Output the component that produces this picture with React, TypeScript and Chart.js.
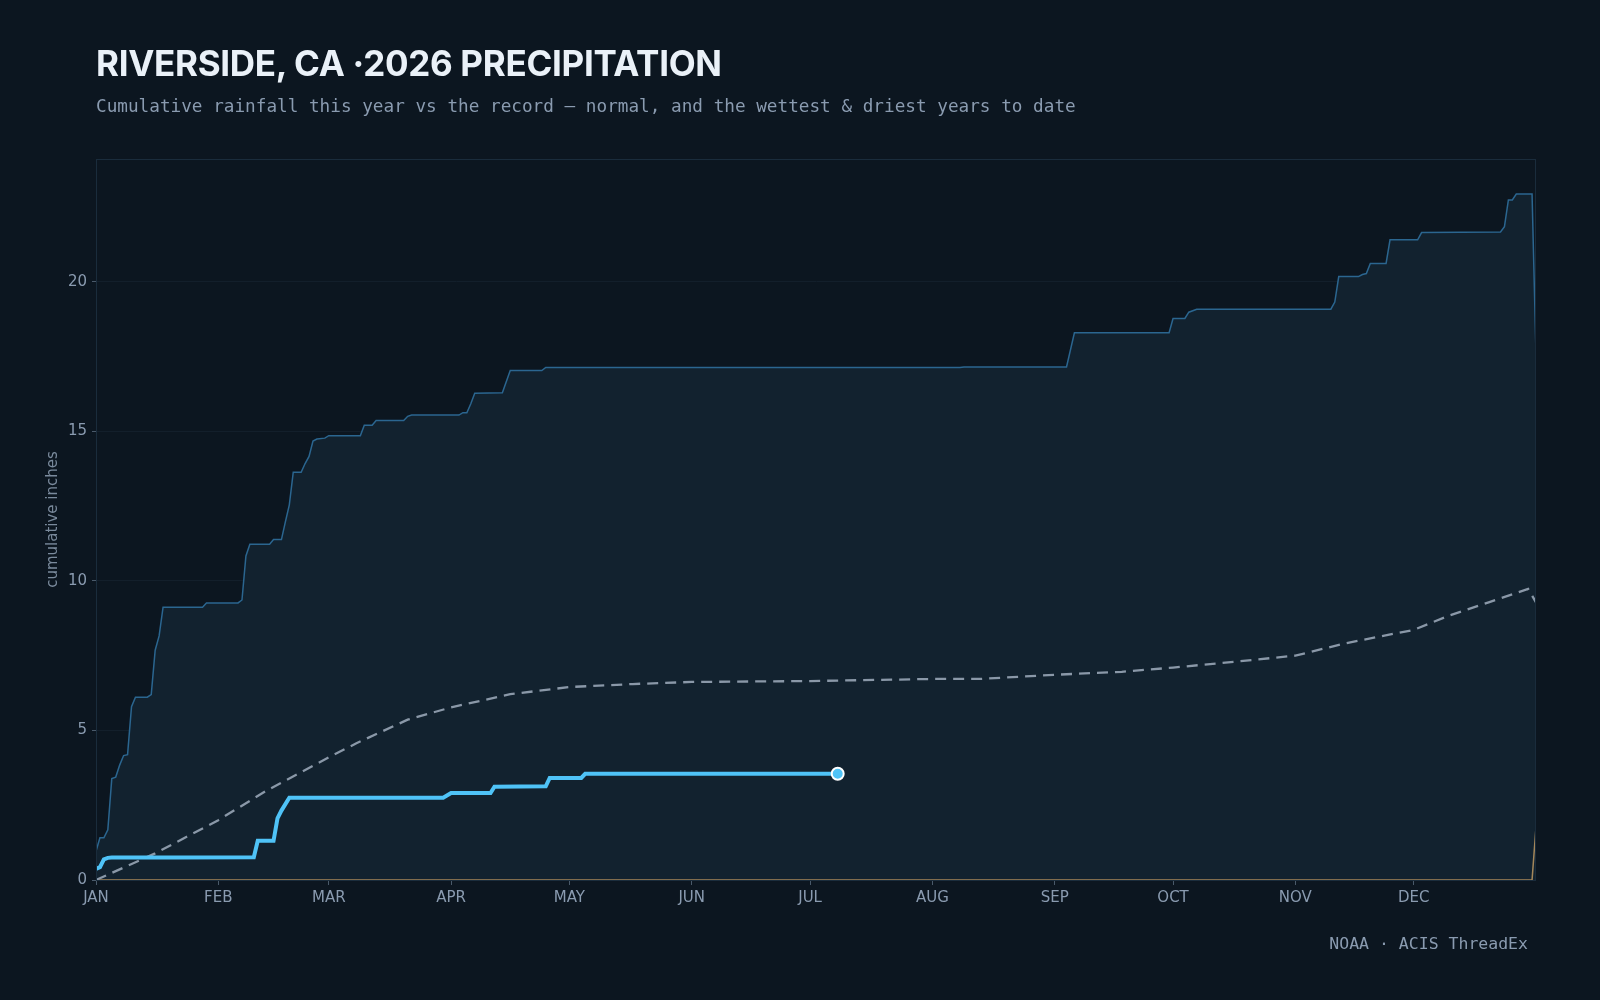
import React, { useEffect, useRef } from "react";
import { Chart, registerables } from "chart.js";

Chart.register(...registerables);

// Day-of-year (0 = Jan 1) positions of the month ticks and their labels
const monthDays = [0, 31, 59, 90, 120, 151, 181, 212, 243, 273, 304, 334];
const monthLabels = ["JAN", "FEB", "MAR", "APR", "MAY", "JUN", "JUL", "AUG", "SEP", "OCT", "NOV", "DEC"];

// Wettest year on record, cumulative inches by day of year
const wettestDays = [
  0, 1, 2, 3, 4, 5, 6, 7, 8, 9, 10, 13, 14, 15, 16, 17, 27, 28, 36, 37, 38, 39, 44, 45, 47, 48, 49, 50, 52, 53,
  54, 55, 56, 58, 59, 67, 68, 70, 71, 78, 79, 80, 92, 93, 94, 95, 96, 103, 105, 113, 114, 219, 220, 246, 248,
  272, 273, 276, 277, 279, 313, 314, 315, 320, 321, 322, 323, 327, 328, 335, 336, 356, 357, 358, 359, 360, 364, 365,
];
const wettestValues = [
  0.96, 1.41, 1.41, 1.68, 3.39, 3.44, 3.84, 4.16, 4.19, 5.79, 6.11, 6.11, 6.2, 7.68, 8.16, 9.12, 9.12, 9.26, 9.26, 9.36,
  10.83, 11.22, 11.22, 11.38, 11.38, 11.97, 12.54, 13.63, 13.63, 13.92, 14.16, 14.67, 14.74, 14.77, 14.85, 14.85, 15.2,
  15.2, 15.36, 15.36, 15.5, 15.54, 15.54, 15.62, 15.62, 15.92, 16.27, 16.29, 17.03, 17.03, 17.13, 17.13, 17.15, 17.15,
  18.29, 18.29, 18.77, 18.77, 18.98, 19.08, 19.08, 19.32, 20.17, 20.17, 20.24, 20.27, 20.61, 20.61, 21.4, 21.4, 21.64,
  21.66, 21.84, 22.73, 22.73, 22.93, 22.93, 17.58,
];

// Normal (period-of-record average) accumulation
const normalDays = [
  0, 15, 31, 43, 59, 66, 79, 90, 105, 120, 136, 151, 181, 212, 224, 243, 260, 273, 289, 304, 317, 334, 343, 353, 363, 365,
];
const normalValues = [
  0.0, 0.89, 2.0, 2.97, 4.1, 4.57, 5.36, 5.77, 6.21, 6.45, 6.55, 6.62, 6.65, 6.72, 6.72, 6.86, 6.96, 7.1, 7.3, 7.5, 7.92,
  8.36, 8.84, 9.28, 9.73, 9.28,
];

// Driest year on record
const driestDays = [0, 364, 365];
const driestValues = [0.0, 0.0, 1.77];

// 2026 so far
const currentDays = [
  0, 1, 2, 3, 4, 20, 40, 41, 45, 46, 47, 49, 88, 90, 100, 101, 114, 115, 123, 124, 188,
];
const currentValues = [
  0.37, 0.43, 0.69, 0.74, 0.75, 0.75, 0.76, 1.31, 1.31, 2.06, 2.32, 2.75, 2.75, 2.91, 2.91, 3.12, 3.13, 3.41, 3.41, 3.55,
  3.55,
];

const toPoints = (xs: number[], ys: number[]) => xs.map((x, i) => ({ x, y: ys[i] }));

const TICK_COLOR = "#8a9bb0";
const BG = "#0c1620";

// Outline around the plotting area
const frame = {
  id: "frame",
  afterDraw(chart: any) {
    const { ctx, chartArea } = chart;
    ctx.save();
    ctx.strokeStyle = "#1a2c3c";
    ctx.lineWidth = 1;
    ctx.strokeRect(chartArea.left + 0.5, chartArea.top + 0.5, chartArea.width - 1, chartArea.height);
    ctx.restore();
  },
};

export default function App() {
  const canvasRef = useRef<HTMLCanvasElement | null>(null);

  useEffect(() => {
    const canvas = canvasRef.current;
    if (!canvas) return;
    const currentPts = toPoints(currentDays, currentValues);
    const lastIdx = currentPts.length - 1;
    const chart = new Chart(canvas, {
      type: "line",
      data: {
        datasets: [
          {
            label: "2026",
            data: currentPts,
            borderColor: "#4fc3f7",
            borderWidth: 4,
            pointRadius: (c: any) => (c.dataIndex === lastIdx ? 6 : 0),
            pointBackgroundColor: "#4fc3f7",
            pointBorderColor: "#ffffff",
            pointBorderWidth: 2,
            fill: false,
            order: 0,
          },
          {
            label: "Normal",
            data: toPoints(normalDays, normalValues),
            borderColor: "#8a98a8",
            borderWidth: 2.3,
            borderDash: [11, 7],
            pointRadius: 0,
            fill: false,
            order: 1,
          },
          {
            label: "Driest",
            data: toPoints(driestDays, driestValues),
            borderColor: "#a5875a",
            borderWidth: 1.5,
            pointRadius: 0,
            fill: false,
            order: 2,
          },
          {
            label: "Wettest",
            data: toPoints(wettestDays, wettestValues),
            borderColor: "#2b6690",
            borderWidth: 1.5,
            backgroundColor: "#12222f",
            pointRadius: 0,
            fill: "origin",
            order: 3,
          },
        ],
      },
      options: {
        responsive: false,
        animation: false,
        events: [],
        layout: { padding: { left: 44, top: 159, right: 64, bottom: 80 } },
        plugins: { legend: { display: false }, tooltip: { enabled: false } },
        scales: {
          x: {
            type: "linear",
            min: 0,
            max: 365,
            afterFit: (s: any) => {
              s.height = 40;
            },
            afterBuildTicks: (s: any) => {
              s.ticks = monthDays.map((v) => ({ value: v }));
            },
            ticks: {
              color: TICK_COLOR,
              font: { family: "DejaVu Sans", size: 15 },
              padding: 4,
              maxRotation: 0,
              autoSkip: false,
              callback: (v: any) => monthLabels[monthDays.indexOf(Number(v))] ?? "",
            },
            grid: { drawOnChartArea: false, tickLength: 5, tickColor: "#4a5a6a", color: "#4a5a6a" },
            border: { display: false },
          },
          y: {
            min: 0,
            max: 24.1,
            afterFit: (s: any) => {
              s.width = 52;
            },
            ticks: {
              stepSize: 5,
              includeBounds: false,
              color: TICK_COLOR,
              font: { family: "DejaVu Sans", size: 15 },
              padding: 5,
            },
            grid: { color: "#131f2b", tickColor: "#4a5a6a", tickLength: 4, lineWidth: 1 },
            border: { display: true, color: "#1a2c3c" },
            title: {
              display: true,
              text: "cumulative inches",
              color: "#7a8a9c",
              font: { family: "DejaVu Sans", size: 15 },
              padding: 0,
            },
          },
        },
      },
      plugins: [frame],
    });
    return () => chart.destroy();
  }, []);

  return (
    <div style={{ position: "fixed", left: 0, top: 0, width: 1600, height: 1000, background: BG, overflow: "hidden" }}>
      <canvas ref={canvasRef} width={1600} height={1000} style={{ position: "absolute", left: 0, top: 0 }} />
      <div
        style={{
          position: "absolute",
          left: 96,
          top: 40,
          color: "#eaf1f8",
          fontFamily: "Inter, 'Open Sans', sans-serif",
          fontWeight: 700,
          fontSize: 35,
          letterSpacing: -0.3,
          lineHeight: "46px",
          whiteSpace: "nowrap",
        }}
      >
        RIVERSIDE, CA ·2026 PRECIPITATION
      </div>
      <div
        style={{
          position: "absolute",
          left: 96,
          top: 94,
          color: TICK_COLOR,
          fontFamily: "'DejaVu Sans Mono', monospace",
          fontSize: 17.7,
          lineHeight: "24px",
          whiteSpace: "nowrap",
        }}
      >
        Cumulative rainfall this year vs the record — normal, and the wettest &amp; driest years to date
      </div>
      <div
        style={{
          position: "absolute",
          right: 72,
          top: 933,
          color: TICK_COLOR,
          fontFamily: "'DejaVu Sans Mono', monospace",
          fontSize: 16.5,
          lineHeight: "22px",
          whiteSpace: "nowrap",
        }}
      >
        NOAA · ACIS ThreadEx
      </div>
    </div>
  );
}
